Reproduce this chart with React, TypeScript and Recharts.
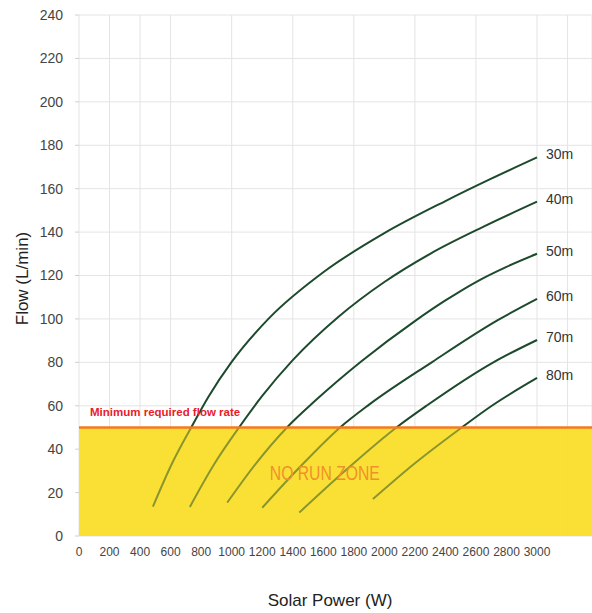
import React from 'react';
import {
  LineChart,
  Line,
  XAxis,
  YAxis,
  CartesianGrid,
  ReferenceArea,
  ReferenceLine,
  ReferenceDot,
  Label,
} from 'recharts';

const curve30m = [
  { power: 484, flow: 13.5 }, { power: 610, flow: 33.5 }, { power: 735, flow: 50 },
  { power: 850, flow: 64.4 }, { power: 1000, flow: 80.2 }, { power: 1250, flow: 100.7 },
  { power: 1600, flow: 121.5 }, { power: 2000, flow: 139.5 }, { power: 2400, flow: 154.3 },
  { power: 2700, flow: 164.6 }, { power: 3000, flow: 174.4 },
];
const curve40m = [
  { power: 726, flow: 13.4 }, { power: 880, flow: 32.5 }, { power: 1048, flow: 50 },
  { power: 1200, flow: 64.5 }, { power: 1400, flow: 81 }, { power: 1700, flow: 101 },
  { power: 2000, flow: 117 }, { power: 2300, flow: 130 }, { power: 2650, flow: 142.5 },
  { power: 3000, flow: 154 },
];
const curve50m = [
  { power: 971, flow: 15.4 }, { power: 1160, flow: 33.5 }, { power: 1362, flow: 50 },
  { power: 1550, flow: 62.5 }, { power: 1850, flow: 80.5 }, { power: 2200, flow: 99 },
  { power: 2400, flow: 108.5 }, { power: 2600, flow: 117 }, { power: 2800, flow: 124 },
  { power: 3000, flow: 130 },
];
const curve60m = [
  { power: 1200, flow: 13 }, { power: 1450, flow: 32 }, { power: 1710, flow: 50 },
  { power: 1900, flow: 60.5 }, { power: 2310, flow: 80 }, { power: 2740, flow: 99.3 },
  { power: 3000, flow: 109.2 },
];
const curve70m = [
  { power: 1443, flow: 10.8 }, { power: 1750, flow: 30.5 }, { power: 2079, flow: 50 },
  { power: 2276, flow: 60 }, { power: 2714, flow: 80 }, { power: 3000, flow: 90.3 },
];
const curve80m = [
  { power: 1925, flow: 17 }, { power: 2200, flow: 33.5 }, { power: 2507, flow: 50 },
  { power: 2704, flow: 60 }, { power: 3000, flow: 72.8 },
];

const seriesNames = ['30m', '40m', '50m', '60m', '70m', '80m'];
const seriesData = [curve30m, curve40m, curve50m, curve60m, curve70m, curve80m];

const xTicks = [0, 200, 400, 600, 800, 1000, 1200, 1400, 1600, 1800, 2000, 2200, 2400, 2600, 2800, 3000, 3200];
const xTickLabels = ['0', '200', '400', '600', '800', '1000', '1200', '1400', '1600', '1800', '2000', '2200', '2400', '2600', '2800', '3000', ''];
const yTicks = [0, 20, 40, 60, 80, 100, 120, 140, 160, 180, 200, 220, 240];

const minFlow = 50;
const xTitle = 'Solar Power (W)';
const yTitle = 'Flow (L/min)';
const minLabel = 'Minimum required flow rate';
const zoneLabel = 'NO RUN ZONE';

const FONT = "'Liberation Sans', Arial, sans-serif";
const NARROW = "'Liberation Sans Narrow', 'Arial Narrow', 'Liberation Sans', sans-serif";
const LINE_COLOR = '#1d4a2c';

const makeEndLabel = (name: string, len: number) => (props: any) => {
  if (props.index !== len - 1) return <g key={`l-${name}-${props.index}`} />;
  return (
    <text
      key={`l-${name}`}
      x={props.x + 9}
      y={props.y - 3}
      dominantBaseline="central"
      fontFamily={FONT}
      fontSize={14}
      fill="#333"
    >
      {name}
    </text>
  );
};

const YTitle = (props: any) => {
  const vb = props.viewBox || {};
  const cx = 22;
  const cy = vb.y + vb.height / 2 + 3;
  return (
    <text
      x={cx}
      y={cy}
      transform={`rotate(-90 ${cx} ${cy})`}
      textAnchor="middle"
      dominantBaseline="central"
      fontFamily={FONT}
      fontSize={17}
      fill="#222"
    >
      {yTitle}
    </text>
  );
};

const XTitle = (props: any) => {
  const vb = props.viewBox || {};
  return (
    <text
      x={330}
      y={vb.y + 64}
      textAnchor="middle"
      dominantBaseline="central"
      fontFamily={FONT}
      fontSize={17}
      fill="#222"
    >
      {xTitle}
    </text>
  );
};

const ZoneLabel = (props: any) => {
  const vb = props.viewBox || {};
  const cx = vb.x + (vb.width || 0) / 2;
  const cy = vb.y + (vb.height || 0) / 2;
  return (
    <text
      x={cx - 55}
      y={cy}
      dominantBaseline="central"
      textLength={110}
      lengthAdjust="spacingAndGlyphs"
      fontFamily={FONT}
      fontSize={20}
      fill="#F0902A"
    >
      {zoneLabel}
    </text>
  );
};

export default function App() {
  return (
    <div style={{ position: 'absolute', left: 0, top: 0, width: 592, height: 613, background: '#fff', fontFamily: FONT }}>
      <LineChart width={592} height={613} margin={{ top: 15, right: 0, bottom: 0, left: 0 }}>
        <CartesianGrid stroke="#e4e4e4" strokeWidth={1} />
        <XAxis
          dataKey="power"
          type="number"
          domain={[0, 3360]}
          ticks={xTicks}
          tickFormatter={(v: number) => xTickLabels[xTicks.indexOf(v)]}
          axisLine={false}
          tickLine={false}
          tickSize={0}
          tickMargin={11}
          height={77}
          allowDataOverflow
          tick={{ fontFamily: NARROW, fontSize: 12, fill: '#444' }}
        >
          <Label content={<XTitle />} />
        </XAxis>
        <YAxis
          type="number"
          domain={[0, 240]}
          ticks={yTicks}
          width={79}
          axisLine={false}
          tickLine={{ stroke: '#d0d0d0' }}
          tickSize={4}
          tickMargin={12}
          tick={{ fontFamily: FONT, fontSize: 14, fill: '#444' }}
        >
          <Label content={<YTitle />} />
        </YAxis>
        <ReferenceArea y1={0} y2={minFlow} fill="#FADF2E" fillOpacity={0.93} stroke="none" />
        {seriesData.map((d, i) => (
          <Line
            key={seriesNames[i]}
            data={d}
            dataKey="flow"
            type="monotone"
            stroke={LINE_COLOR}
            strokeWidth={2}
            dot={false}
            isAnimationActive={false}
            label={makeEndLabel(seriesNames[i], d.length)}
          />
        ))}
        <ReferenceArea y1={0} y2={minFlow} fill="#FADF2E" fillOpacity={0.5} stroke="none" zIndex={1500} />
        <ReferenceLine
          y={minFlow}
          stroke="#F37A21"
          strokeWidth={2.5}
          zIndex={1600}
          label={{
            value: minLabel,
            position: 'insideBottomLeft',
            offset: 11,
            fill: '#E8202A',
            fontSize: 11.5,
            fontWeight: 'bold',
            fontFamily: NARROW,
          }}
        />
        <ReferenceDot x={1610} y={29} r={0} fill="none" stroke="none" zIndex={1600}>
          <Label content={<ZoneLabel />} />
        </ReferenceDot>
      </LineChart>
    </div>
  );
}
